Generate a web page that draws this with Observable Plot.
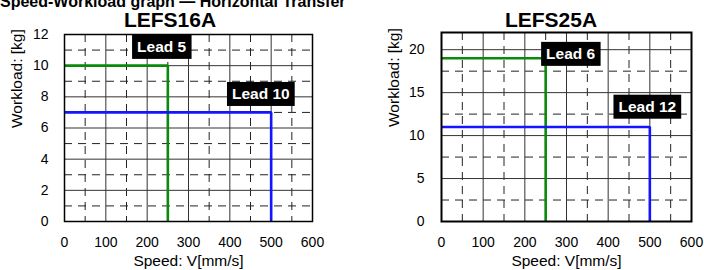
<!DOCTYPE html>
<html>
<head>
<meta charset="utf-8">
<script src="https://cdn.jsdelivr.net/npm/d3@7"></script>
<script src="https://cdn.jsdelivr.net/npm/@observablehq/plot@0.6"></script>
<style>
  html, body { margin: 0; padding: 0; background: #fff; }
  #wrap { position: relative; width: 704px; height: 270px; overflow: hidden; font-family: "Liberation Sans", Arial, sans-serif; }
  .hdr { position: absolute; left: 0; top: -6.5px; font-size: 16px; line-height: 16px; font-weight: bold; white-space: nowrap; color: #000; }
  .ttl { position: absolute; top: 9px; width: 200px; text-align: center; font-size: 21px; line-height: 21px; font-weight: bold; color: #000; }
  .pl { position: absolute; top: 0; }
</style>
</head>
<body>
<div id="wrap">
  <div class="hdr">Speed-Workload graph — Horizontal Transfer</div>
  <div class="ttl" style="left:70px">LEFS16A</div>
  <div class="ttl" style="left:451px">LEFS25A</div>
</div>
<script>
// ---- data ----
const xTicks = [0, 100, 200, 300, 400, 500, 600];
const xMajor = [100, 200, 300, 400, 500];
const xMinor = [50, 150, 250, 350, 450, 550];

const leftYTicks = [0, 2, 4, 6, 8, 10, 12];
const leftYMajor = [2, 4, 6, 8, 10];
const leftYMinor = [1, 3, 5, 7, 9, 11];
const leftLeads = ["Lead 5", "Lead 10"];
const leftSpeeds = [250, 500];
const leftLoads = [10, 7];
const leftLabelX = [235, 475];
const leftLabelY = [11.17, 8.15];

const rightYTicks = [0, 5, 10, 15, 20];
const rightYMajor = [5, 10, 15, 20];
const rightYMinor = [2.5, 7.5, 12.5, 17.5];
const rightLeads = ["Lead 6", "Lead 12"];
const rightSpeeds = [250, 500];
const rightLoads = [19, 11];
const rightLabelX = [310, 494];
const rightLabelY = [19.45, 13.3];

const leadColors = ["#0a8a0a", "#1414ff"];
const xLabel = "Speed: V[mm/s]";
const yLabel = "Workload: [kg]";

function makeChart(opts) {
  const lines = [];
  opts.leads.forEach((lead, i) => {
    lines.push({lead, x: 0, y: opts.loads[i]});
    lines.push({lead, x: opts.speeds[i], y: opts.loads[i]});
    lines.push({lead, x: opts.speeds[i], y: 0});
  });
  const labels = opts.leads.map((t, i) => ({t, x: opts.labelX[i], y: opts.labelY[i]}));
  const dash = "8,6";
  const chart = Plot.plot({
    width: 352, height: 270,
    marginLeft: opts.ml, marginRight: opts.mr, marginTop: opts.mt, marginBottom: 49,
    style: {fontFamily: "Liberation Sans, Arial, sans-serif", fontSize: "14px", color: "#000", background: "transparent"},
    x: {domain: [0, 600]},
    y: {domain: opts.yDomain},
    marks: [
      Plot.ruleX(xMinor, {stroke: "#222", strokeWidth: 1, strokeDasharray: dash}),
      Plot.ruleY(opts.yMinor, {stroke: "#222", strokeWidth: 1, strokeDasharray: dash}),
      Plot.ruleX(xMajor, {stroke: "#333", strokeWidth: 1}),
      Plot.ruleY(opts.yMajor, {stroke: "#333", strokeWidth: 1}),
      Plot.axisX({ticks: xTicks, tickSize: 0, tickPadding: 16, label: null, fontSize: 14}),
      Plot.axisY({ticks: opts.yTicks, tickSize: 0, tickPadding: opts.ytp, label: null, fontSize: 14}),
      Plot.line(lines, {x: "x", y: "y", z: "lead", stroke: (d) => leadColors[opts.leads.indexOf(d.lead)], strokeWidth: 2.6, strokeLinejoin: "miter", strokeLinecap: "butt"}),
      Plot.frame({stroke: "#000", strokeWidth: opts.fw}),
      Plot.text(labels, {x: "x", y: "y", text: "t", fill: "#fff", fontWeight: "bold", fontSize: 15.5, textAnchor: "middle", lineAnchor: "middle", ariaLabel: () => "lead-label"}),
      Plot.text([xLabel], {frameAnchor: "bottom", dy: 40, fontSize: 15.5, lineAnchor: "middle", fill: "#000"}),
      Plot.text([yLabel], {frameAnchor: "left", dx: opts.ylx, rotate: -90, fontSize: 15.5, lineAnchor: "middle", fill: "#000"})
    ]
  });
  chart.classList.add("pl");
  chart.style.left = opts.left + "px";
  return chart;
}

const wrap = document.getElementById("wrap");
const c1 = makeChart({left: 0, ml: 64, mr: 40, mt: 34, fw: 1.5, ytp: 16, ylx: -47,
  yDomain: [0, 12], yTicks: leftYTicks, yMajor: leftYMajor, yMinor: leftYMinor,
  leads: leftLeads, speeds: leftSpeeds, loads: leftLoads, labelX: leftLabelX, labelY: leftLabelY});
const c2 = makeChart({left: 352, ml: 89, mr: 13, mt: 32, fw: 2, ytp: 17, ylx: -47,
  yDomain: [0, 22], yTicks: rightYTicks, yMajor: rightYMajor, yMinor: rightYMinor,
  leads: rightLeads, speeds: rightSpeeds, loads: rightLoads, labelX: rightLabelX, labelY: rightLabelY});
wrap.appendChild(c1);
wrap.appendChild(c2);

// black boxes behind lead labels (sized from the rendered text)
const ns = "http://www.w3.org/2000/svg";
for (const svg of [c1, c2]) {
  const texts = Array.from(svg.querySelectorAll("text")).filter((t) => t.getAttribute("aria-label") === "lead-label");
  if (!texts.length) continue;
  const g = texts[0].parentNode;
  const bg = document.createElementNS(ns, "g");
  texts.forEach((t) => {
    const b = t.getBBox();
    const tm = t.getCTM();
    const gm = g.getCTM();
    const rel = gm.inverse().multiply(tm);
    const p = svg.createSVGPoint();
    p.x = b.x; p.y = b.y;
    const q = p.matrixTransform(rel);
    const r = document.createElementNS(ns, "rect");
    r.setAttribute("x", q.x - 5);
    r.setAttribute("y", q.y - 3.5);
    r.setAttribute("width", b.width + 10);
    r.setAttribute("height", b.height + 7);
    r.setAttribute("fill", "#000");
    bg.appendChild(r);
  });
  g.insertBefore(bg, g.firstChild);
}
</script>
</body>
</html>
